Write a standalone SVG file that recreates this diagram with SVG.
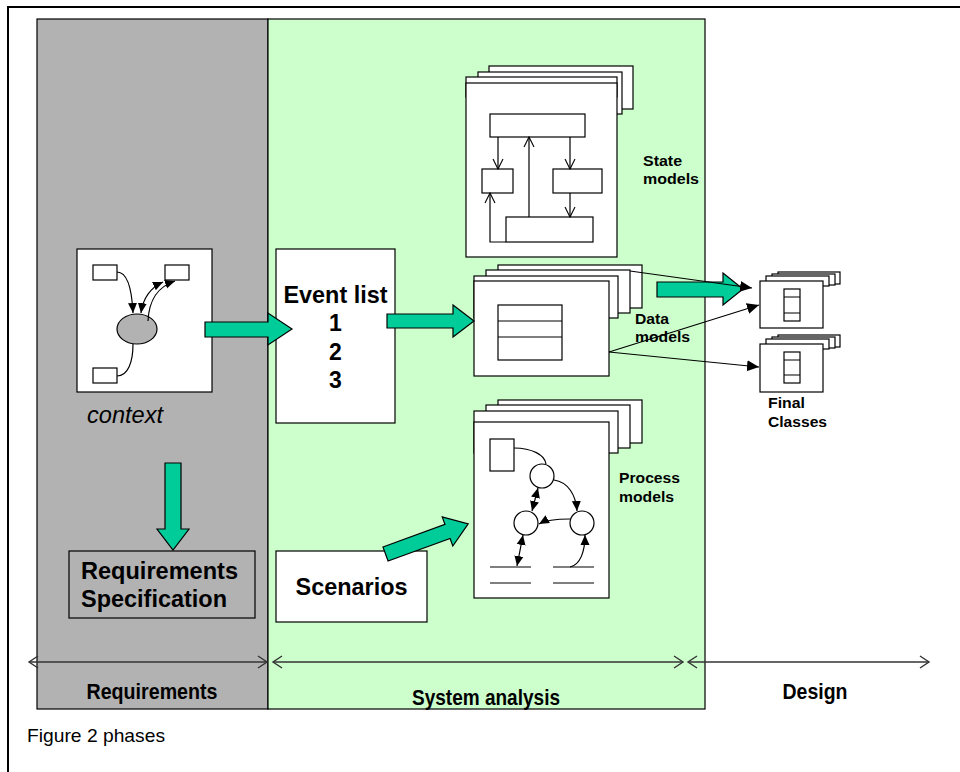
<svg xmlns="http://www.w3.org/2000/svg" width="960" height="772" viewBox="0 0 960 772">
  <style>
    .frame { fill: none; stroke: #000; stroke-width: 2; }
    .box { fill: #fff; stroke: #000; stroke-width: 1.2; }
    .thin { fill: none; stroke: #000; stroke-width: 1.2; }
    .big { fill: #00cc99; stroke: #000; stroke-width: 1.2; }
    .lbl { font-family: "Liberation Sans", Arial, sans-serif; font-weight: bold; fill: #000; }
    .phase { stroke: #333; stroke-width: 1.6; fill: none; marker-start: url(#open); marker-end: url(#open); }
  </style>
  <defs>
    <marker id="open" markerUnits="userSpaceOnUse" markerWidth="12" markerHeight="14" viewBox="-1 -7 12 14" refX="9" refY="0" orient="auto-start-reverse">
      <path d="M0,-6 L9,0 L0,6" fill="none" stroke="#333" stroke-width="1.4"/>
    </marker>
    <marker id="vee" markerUnits="userSpaceOnUse" markerWidth="12" markerHeight="12" viewBox="-1 -6 12 12" refX="10" refY="0" orient="auto-start-reverse">
      <path d="M0,-5 L10,0 L0,5" fill="none" stroke="#000" stroke-width="1.1"/>
    </marker>
    <marker id="tri" markerUnits="userSpaceOnUse" markerWidth="12" markerHeight="12" viewBox="0 -6 12 12" refX="10" refY="0" orient="auto-start-reverse">
      <path d="M0,-4.5 L10,0 L0,4.5 Z" fill="#000"/>
    </marker>
    <marker id="tri2" markerUnits="userSpaceOnUse" markerWidth="14" markerHeight="14" viewBox="0 -7 14 14" refX="12" refY="0" orient="auto">
      <path d="M0,-5.5 L12,0 L0,5.5 Z" fill="#000"/>
    </marker>
  </defs>

  <rect width="960" height="772" fill="#fff"/>
  <!-- outer frame (top and left edges) -->
  <path class="frame" d="M8,772 L8,7 L960,7"/>

  <!-- phase panels -->
  <g id="panel-requirements">
    <rect x="37" y="19" width="231" height="690" fill="#b2b2b2" stroke="#000" stroke-width="1.2"/>
  </g>
  <g id="panel-analysis">
    <rect x="268" y="19" width="437" height="690" fill="#ccffcc" stroke="#000" stroke-width="1.2"/>
  </g>

  <!-- context diagram -->
  <g id="context">
    <rect class="box" x="77" y="249" width="135" height="143"/>
    <rect class="box" x="93" y="265" width="24" height="15"/>
    <rect class="box" x="165" y="265" width="24" height="15"/>
    <rect class="box" x="93" y="368" width="24" height="15"/>
    <ellipse cx="137" cy="329" rx="20" ry="15" fill="#b2b2b2" stroke="#000" stroke-width="1.2"/>
    <path class="thin" d="M117,272 C128,272 132,292 133,313" marker-end="url(#tri)"/>
    <path class="thin" d="M141,313 C143,298 150,288 163,282" marker-start="url(#tri)" marker-end="url(#tri)"/>
    <path class="thin" d="M148,321 C149,300 157,287 175,281" marker-end="url(#tri)"/>
    <path class="thin" d="M117,376 C128,376 133,362 133,344"/>
    <text x="87" y="423" font-family="Liberation Sans, Arial, sans-serif" font-style="italic" font-size="23" textLength="76" lengthAdjust="spacingAndGlyphs">context</text>
  </g>

  <!-- requirements specification -->
  <g id="req-spec">
    <rect x="69" y="551" width="186" height="67" fill="#b2b2b2" stroke="#000" stroke-width="1.2"/>
    <text class="lbl" x="81" y="579" font-size="23" textLength="157" lengthAdjust="spacingAndGlyphs">Requirements</text>
    <text class="lbl" x="81" y="607" font-size="23" textLength="146" lengthAdjust="spacingAndGlyphs">Specification</text>
  </g>

  <!-- event list -->
  <g id="event-list">
    <rect class="box" x="276" y="249" width="119" height="174"/>
    <text class="lbl" x="335.5" y="303" font-size="23" text-anchor="middle" textLength="104" lengthAdjust="spacingAndGlyphs">Event list</text>
    <text class="lbl" x="335.5" y="331" font-size="23" text-anchor="middle">1</text>
    <text class="lbl" x="335.5" y="360" font-size="23" text-anchor="middle">2</text>
    <text class="lbl" x="335.5" y="388" font-size="23" text-anchor="middle">3</text>
  </g>

  <!-- scenarios -->
  <g id="scenarios">
    <rect class="box" x="276" y="551" width="151" height="71"/>
    <text class="lbl" x="351.5" y="595" font-size="23" text-anchor="middle" textLength="112" lengthAdjust="spacingAndGlyphs">Scenarios</text>
  </g>

  <!-- state models -->
  <g id="state-models">
    <rect class="box" x="489" y="66" width="144" height="43"/>
    <rect class="box" x="478" y="72" width="144" height="42"/>
    <rect class="box" x="466" y="77" width="151" height="20"/>
    <rect class="box" x="466" y="83" width="151" height="174"/>
    <rect class="box" x="490" y="114" width="95" height="23"/>
    <rect class="box" x="482" y="169" width="31" height="24"/>
    <rect class="box" x="553" y="169" width="49" height="24"/>
    <rect class="box" x="506" y="217" width="87" height="25"/>
    <path class="thin" d="M498,137 L498,169" marker-end="url(#vee)"/>
    <path class="thin" d="M570,137 L570,169" marker-end="url(#vee)"/>
    <path class="thin" d="M570,193 L570,217" marker-end="url(#vee)"/>
    <path class="thin" d="M529,217 L529,137" marker-end="url(#vee)"/>
    <path class="thin" d="M506,242 L490,242 L490,193" marker-end="url(#vee)"/>
    <text class="lbl" x="643" y="166" font-size="14" textLength="39" lengthAdjust="spacingAndGlyphs">State</text>
    <text class="lbl" x="643" y="184" font-size="14" textLength="56" lengthAdjust="spacingAndGlyphs">models</text>
  </g>

  <!-- data models -->
  <g id="data-models">
    <rect class="box" x="498" y="265" width="144" height="43"/>
    <rect class="box" x="486" y="270" width="144" height="43"/>
    <rect class="box" x="474" y="276" width="144" height="42"/>
    <rect class="box" x="474" y="281" width="135" height="95"/>
    <rect class="box" x="498" y="305" width="64" height="55"/>
    <line class="thin" x1="498" y1="321" x2="562" y2="321"/>
    <line class="thin" x1="498" y1="337" x2="562" y2="337"/>
    <text class="lbl" x="635" y="324" font-size="14" textLength="34" lengthAdjust="spacingAndGlyphs">Data</text>
    <text class="lbl" x="635" y="342" font-size="14" textLength="55" lengthAdjust="spacingAndGlyphs">models</text>
  </g>

  <!-- process models -->
  <g id="process-models">
    <rect class="box" x="498" y="400" width="144" height="43"/>
    <rect class="box" x="486" y="405" width="144" height="43"/>
    <rect class="box" x="474" y="411" width="144" height="42"/>
    <rect class="box" x="474" y="422" width="135" height="176"/>
    <rect class="box" x="490" y="439" width="24" height="32"/>
    <circle class="box" cx="542" cy="476" r="12"/>
    <circle class="box" cx="526" cy="523" r="12"/>
    <circle class="box" cx="582" cy="523" r="12"/>
    <path class="thin" d="M490,567 H531 M490,583 H531 M553,567 H594 M553,583 H594"/>
    <path class="thin" d="M514,448 C532,448 545,455 546,464"/>
    <path class="thin" d="M554,480 C568,482 576,495 577,511" marker-end="url(#tri)"/>
    <path class="thin" d="M570,519 C556,519 546,520 539,524" marker-end="url(#tri)"/>
    <path class="thin" d="M538,488 L532,511" marker-start="url(#tri)" marker-end="url(#tri)"/>
    <path class="thin" d="M523,535 L517,566" marker-start="url(#tri)" marker-end="url(#tri)"/>
    <path class="thin" d="M570,567 C580,565 585,552 585,535" marker-end="url(#tri)"/>
    <text class="lbl" x="619" y="483" font-size="14" textLength="61" lengthAdjust="spacingAndGlyphs">Process</text>
    <text class="lbl" x="619" y="502" font-size="14" textLength="55" lengthAdjust="spacingAndGlyphs">models</text>
  </g>

  <!-- final classes -->
  <g id="final-classes">
    <rect class="box" x="778" y="272" width="62" height="12" stroke-width="1.6"/>
    <rect class="box" x="772" y="274" width="63" height="11" stroke-width="1.6"/>
    <rect class="box" x="766" y="276" width="63" height="10" stroke-width="1.6"/>
    <rect class="box" x="760" y="281" width="63" height="47"/>
    <rect class="box" x="784" y="289" width="16" height="32"/>
    <path class="thin" d="M784,297 H800 M784,313 H800"/>
    <rect class="box" x="778" y="335" width="62" height="12" stroke-width="1.6"/>
    <rect class="box" x="772" y="337" width="63" height="11" stroke-width="1.6"/>
    <rect class="box" x="766" y="339" width="63" height="10" stroke-width="1.6"/>
    <rect class="box" x="760" y="344" width="63" height="48"/>
    <rect class="box" x="784" y="352" width="16" height="31"/>
    <path class="thin" d="M784,360 H800 M784,375 H800"/>
    <text class="lbl" x="768" y="408" font-size="14" textLength="37" lengthAdjust="spacingAndGlyphs">Final</text>
    <text class="lbl" x="768" y="427" font-size="14" textLength="59" lengthAdjust="spacingAndGlyphs">Classes</text>
  </g>

  <!-- connectors -->
  <g id="connectors">
    <polygon class="big" points="205,322 268,322 268,313 292,329 268,345 268,337 205,337"/>
    <polygon class="big" points="387,314 453,314 453,305 474,321 453,337 453,328 387,328"/>
    <polygon class="big" points="657,282 723,282 723,273 743,289 723,305 723,297 657,297"/>
    <polygon class="big" points="165,463 181,463 181,529 189,529 173,550 157,529 165,529"/>
    <polygon class="big" transform="translate(385.5,554) rotate(-20)" points="0,-7.5 66,-7.5 66,-15.5 88,0 66,15.5 66,7.5 0,7.5"/>
    <line class="thin" x1="630" y1="271" x2="752" y2="288" marker-end="url(#tri2)"/>
    <line class="thin" x1="609" y1="352" x2="759" y2="305" marker-end="url(#tri2)"/>
    <line class="thin" x1="609" y1="352" x2="759" y2="367" marker-end="url(#tri2)"/>
  </g>

  <!-- phase spans -->
  <g id="phases">
    <line class="phase" x1="29" y1="662" x2="267" y2="662"/>
    <line class="phase" x1="273" y1="662" x2="683" y2="662"/>
    <line class="phase" x1="688" y1="662" x2="929" y2="662"/>
    <text class="lbl" x="152" y="699" font-size="22" text-anchor="middle" textLength="131" lengthAdjust="spacingAndGlyphs">Requirements</text>
    <text class="lbl" x="486" y="705" font-size="22" text-anchor="middle" textLength="148" lengthAdjust="spacingAndGlyphs">System analysis</text>
    <text class="lbl" x="815" y="699" font-size="22" text-anchor="middle" textLength="65" lengthAdjust="spacingAndGlyphs">Design</text>
  </g>

  <text x="27" y="742" font-family="Liberation Sans, Arial, sans-serif" font-size="19" textLength="138" lengthAdjust="spacingAndGlyphs">Figure 2 phases</text>
</svg>
